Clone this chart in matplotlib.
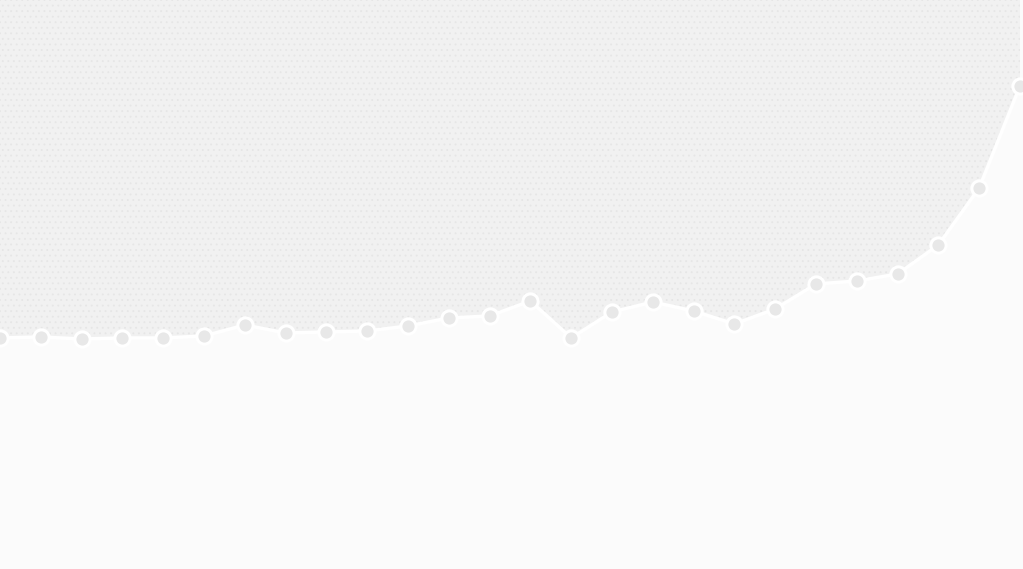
import numpy as np
import matplotlib.pyplot as plt
import matplotlib as mpl

# values (height above the bottom edge, in px units)
steps = list(range(26))
values = [231, 232, 230, 231, 231, 233, 244, 236, 237, 238, 243, 251, 253,
          268, 231, 257, 267, 258, 245, 260, 285, 288, 295, 324, 381, 483]

fig_w, fig_h = 1023, 569
fig = plt.figure(figsize=(fig_w / 100, fig_h / 100), dpi=100)
fig.patch.set_facecolor('#fbfbfb')
ax = fig.add_axes([0, 0, 1, 1])
ax.set_facecolor('#fbfbfb')

mpl.rcParams['hatch.linewidth'] = 0.6

# upper shaded region with dotted texture
ax.fill_between(steps, values, fig_h, facecolor='#f1f1f1', linewidth=0)
ax.fill_between(steps, values, fig_h, facecolor='none', edgecolor='#e6e6e6',
                hatch='...', linewidth=0)

ax.plot(steps, values, color='white', linewidth=2.5, zorder=3,
        marker='o', markersize=11, markerfacecolor='#e8e8e8',
        markeredgecolor='white', markeredgewidth=2.2)

ax.set_xlim(0, 25 * 1023 / 1020)
ax.set_ylim(0, fig_h)
ax.axis('off')

fig.savefig('out.png', dpi=100, facecolor=fig.get_facecolor())
